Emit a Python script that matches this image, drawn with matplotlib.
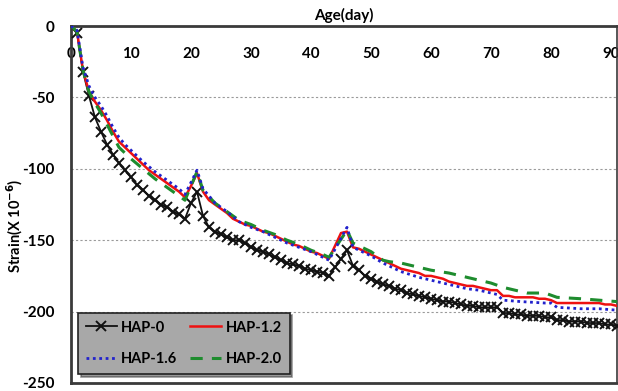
import matplotlib
matplotlib.use("Agg")
import matplotlib.pyplot as plt

plt.rcParams['font.family'] = ['Lato', 'DejaVu Sans']

# ---- data ----
days_hap0 = list(range(0, 92))
hap0 = [0, -5, -32, -49, -64, -74, -83, -90, -96, -101,
        -106, -111, -115, -119, -122, -125, -127, -130, -132, -135,
        -124, -116, -133, -141, -144, -146, -148, -150, -150, -152,
        -155, -157, -158, -160, -162, -164, -166, -167, -168, -170,
        -171, -172, -173, -175, -169, -163, -157, -168, -171, -175,
        -177, -179, -181, -182, -184, -185, -187, -188, -189, -190,
        -191, -192, -193, -193, -194, -195, -196, -196, -197, -197,
        -197, -197, -201, -201, -202, -202, -203, -203, -203, -204,
        -204, -206, -206, -207, -207, -207, -208, -208, -208, -209,
        -209, -210]

days_hap12 = list(range(0, 92))
hap12 = [0, -4, -31, -46, -53, -59, -66, -74, -81, -85,
         -89, -93, -97, -101, -104, -107, -110, -113, -116, -120,
         -112, -103, -116, -122, -125, -128, -131, -135, -137, -139,
         -140, -142, -144, -145, -147, -149, -151, -153, -154, -156,
         -158, -159, -161, -163, -154, -145, -144, -155, -156, -158,
         -160, -162, -164, -166, -168, -170, -171, -172, -173, -175,
         -175, -176, -177, -179, -180, -181, -182, -182, -183, -184,
         -185, -185, -189, -189, -190, -190, -190, -190, -191, -191,
         -192, -194, -194, -194, -194, -194, -194, -194, -194, -195,
         -195, -196]

days_hap16 = [0, 1, 2, 3, 4, 5, 6, 7, 8, 9, 10, 12, 14, 16, 18, 19,
              21, 22, 24, 26, 28, 30, 32, 34, 36, 38, 40, 42, 43,
              46, 47, 48, 50, 52, 55, 58, 60, 63, 66, 68, 70, 71, 72,
              75, 79, 80, 81, 85, 88, 91]
hap16 = [0, -3, -29, -42, -50, -56, -63, -71, -78, -83, -87, -95, -102,
         -108, -114, -118, -101, -114, -124, -130, -137, -141, -144, -148,
         -152, -155, -158, -162, -164, -141, -155, -157, -161, -166,
         -172, -176, -178, -181, -184, -185, -187, -188, -192,
         -193, -194, -194, -197, -198, -198, -199]

days_hap20 = [0, 1, 2, 3, 4, 5, 6, 7, 8, 9, 10, 12, 14, 16, 18, 19,
              21, 22, 24, 26, 28, 30, 32, 34, 36, 38, 40, 42, 43,
              46, 47, 48, 50, 52, 53, 55, 57, 60, 63, 65, 68, 70, 72,
              74, 76, 79, 81, 85, 88, 91]
hap20 = [0, -4, -31, -46, -54, -61, -69, -77, -85, -89, -93, -100, -107,
         -113, -119, -122, -102, -115, -124, -130, -136, -139, -143, -146,
         -150, -153, -157, -160, -162, -143, -152, -154, -158, -164,
         -165, -166, -168, -171, -173, -175, -178, -180, -183,
         -185, -187, -187, -190, -191, -192, -193]

labels = ["HAP-0", "HAP-1.2", "HAP-1.6", "HAP-2.0"]
x_ticks = [0, 10, 20, 30, 40, 50, 60, 70, 80, 90]
y_ticks = [0, -50, -100, -150, -200, -250]

# ---- figure ----
fig = plt.figure(figsize=(6.18, 3.91), dpi=100)
ax = fig.add_axes([71 / 618, 1 - 383 / 391, 546 / 618, 357 / 391])

l0, = ax.plot(days_hap0, hap0, color='#111111', lw=1.3, marker='x',
              ms=7, mew=1.4, label=labels[0], zorder=3)
l1, = ax.plot(days_hap12, hap12, color='#ee1111', lw=1.8,
              label=labels[1], zorder=4)
l2, = ax.plot(days_hap16, hap16, color='#2222cc', lw=2.0, ls=(0, (1, 1.3)),
              label=labels[2], zorder=5)
l3, = ax.plot(days_hap20, hap20, color='#1e8c2e', lw=2.2, ls=(0, (4, 3)),
              label=labels[3], zorder=4)

ax.set_xlim(0, 91)
ax.set_ylim(-250, 0)

ax.yaxis.grid(True, ls=(0, (2, 2)), color='#9a9a9a', lw=0.8)
ax.set_axisbelow(True)

ax.xaxis.tick_top()
ax.set_xticks(x_ticks)
ax.set_xticklabels([str(v) for v in x_ticks], fontweight='bold', fontsize=11)
ax.tick_params(axis='x', length=0, pad=-25)
ax.set_yticks(y_ticks)
ax.set_yticklabels([str(v) for v in y_ticks], fontweight='bold', fontsize=11)
ax.tick_params(axis='y', length=0, pad=12)

for s in ['top', 'left', 'bottom']:
    ax.spines[s].set_color('#3a3a3a')
    ax.spines[s].set_linewidth(2.0)
ax.spines['right'].set_color('#3a3a3a')
ax.spines['right'].set_linewidth(1.2)

ax.xaxis.set_label_position('top')
ax.set_xlabel('Age(day)', fontweight='bold', fontsize=11, labelpad=4)
ax.set_ylabel('Strain(X 10$^{\\mathbf{-6}}$)', fontweight='bold', fontsize=10.5)
ax.yaxis.set_label_coords(-0.085, 0.44)

leg = ax.legend([l0, l2, l1, l3], [labels[0], labels[2], labels[1], labels[3]],
                ncol=2, loc='lower left',
                bbox_to_anchor=(0.013, 0.025),
                prop={'weight': 'bold', 'size': 10.5},
                frameon=True, fancybox=False, shadow=True, numpoints=1,
                handlelength=2.1, handletextpad=0.3, columnspacing=0.9,
                borderaxespad=0, borderpad=0.55, labelspacing=1.2)
leg.get_frame().set_facecolor('#a8a8a8')
leg.get_frame().set_edgecolor('#222222')
leg.get_frame().set_linewidth(1.2)
leg.get_frame().set_alpha(1)

fig.savefig('out.png', dpi=100)
